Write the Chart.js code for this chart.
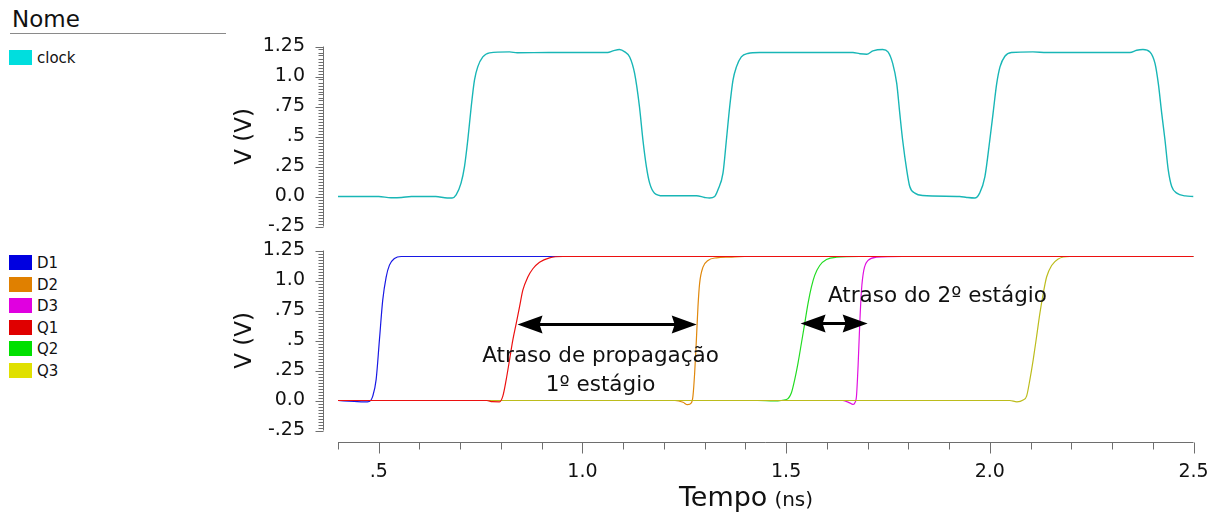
<!DOCTYPE html>
<html>
<head>
<meta charset="utf-8">
<script src="https://cdn.jsdelivr.net/npm/chart.js@4/dist/chart.umd.min.js"></script>
<style>
  html, body { margin: 0; padding: 0; background: #fff; }
  #page { position: relative; width: 1220px; height: 515px; overflow: hidden;
          font-family: "DejaVu Sans", sans-serif; color: #111; }
  #page canvas { position: absolute; left: 0; top: 0; }
  .legend-title { position: absolute; left: 12px; top: 6px; font-size: 23px; line-height: 27px; }
  .legend-rule { position: absolute; left: 10px; top: 33px; width: 216px; height: 1px; background: #8a8a8a; }
  .legend-item { position: absolute; left: 9px; height: 16px; font-size: 15px; line-height: 16px; white-space: nowrap; }
  .legend-item .sw { position: absolute; left: 0; top: 0; width: 23px; height: 15px; }
  .legend-item .lb { position: absolute; left: 28px; top: 0; }
</style>
</head>
<body>
<div id="page">
  <div class="legend-title">Nome</div>
  <div class="legend-rule"></div>
  <div id="legend"></div>
  <canvas id="cTop" width="1220" height="515"></canvas>
  <canvas id="cBottom" width="1220" height="515"></canvas>
</div>
<script>
const FONT = '"DejaVu Sans", sans-serif';

// Axis ranges and tick labels
const X_MIN = 0.4, X_MAX = 2.5;
const Y_MIN = -0.25, Y_MAX = 1.25;
const xTickValues = [0.5, 1.0, 1.5, 2.0, 2.5];
const xTickLabels = ['.5', '1.0', '1.5', '2.0', '2.5'];
const xMinorStep = 0.1;
const yTickValues = [-0.25, 0, 0.25, 0.5, 0.75, 1.0, 1.25];
const yTickLabels = ['-.25', '0.0', '.25', '.5', '.75', '1.0', '1.25'];
const yMinorStep = 0.025;

// Waveforms: time (ns) and voltage (V)
const clockTime = [0.400, 0.500, 0.530, 0.556, 0.580, 0.640, 0.668, 0.680, 0.690, 0.702, 0.7105, 0.7186, 0.727, 0.735, 0.743, 0.7555, 0.772, 0.821, 0.840, 0.919,
  1.062, 1.075, 1.091, 1.104, 1.116, 1.128, 1.140, 1.1485, 1.157, 1.165, 1.177, 1.198, 1.280, 1.300, 1.312, 1.3246, 1.3327, 1.345, 1.3534, 1.3615, 1.3696, 1.378, 1.390, 1.406, 1.435,
  1.620, 1.664, 1.681, 1.698, 1.713, 1.737, 1.750, 1.7616, 1.7715, 1.779, 1.786, 1.796, 1.8035, 1.816, 1.835, 1.926, 1.9435, 1.963, 1.975, 1.988, 2.000, 2.008, 2.017, 2.025, 2.037, 2.053, 2.106, 2.140,
  2.344, 2.3605, 2.376, 2.393, 2.4055, 2.4136, 2.422, 2.430, 2.438, 2.4465, 2.459, 2.480, 2.500];
const clockVolt = [0.000, 0.000, -0.010, -0.008, 0.000, 0.000, -0.012, -0.012, 0.014, 0.111, 0.249, 0.471, 0.748, 0.970, 1.080, 1.163, 1.197, 1.205, 1.198, 1.200,
  1.200, 1.213, 1.225, 1.205, 1.163, 1.028, 0.748, 0.471, 0.249, 0.111, 0.028, 0.006, 0.006, -0.008, -0.013, 0.000, 0.056, 0.194, 0.471, 0.748, 0.970, 1.080, 1.163, 1.192, 1.200,
  1.200, 1.200, 1.190, 1.186, 1.213, 1.225, 1.205, 1.109, 0.942, 0.693, 0.471, 0.222, 0.083, 0.028, 0.008, 0.000, -0.008, -0.013, 0.028, 0.166, 0.471, 0.693, 0.942, 1.080, 1.169, 1.200, 1.205, 1.200,
  1.200, 1.219, 1.225, 1.205, 1.109, 0.942, 0.693, 0.471, 0.222, 0.083, 0.028, 0.005, 0.000];

const d1Time = [0.400, 0.440, 0.465, 0.477, 0.4853, 0.4936, 0.5017, 0.5098, 0.5182, 0.5263, 0.5386, 0.555, 2.500];
const d1Volt = [0.000, -0.008, -0.012, -0.008, 0.036, 0.174, 0.505, 0.836, 1.029, 1.128, 1.183, 1.200, 1.200];

const d2Time = [0.400, 1.227, 1.247, 1.258, 1.2674, 1.2713, 1.2755, 1.2797, 1.2836, 1.2876, 1.2959, 1.3082, 1.3288, 1.3615, 1.398, 2.500];
const d2Volt = [0.000, 0.000, -0.015, -0.035, -0.020, 0.036, 0.229, 0.505, 0.780, 0.974, 1.111, 1.167, 1.189, 1.195, 1.200, 1.200];

const d3Time = [0.400, 1.639, 1.656, 1.6636, 1.6685, 1.6727, 1.6766, 1.6808, 1.685, 1.6906, 1.7012, 1.7218, 1.787, 2.500];
const d3Volt = [0.000, 0.000, -0.020, -0.033, -0.020, 0.036, 0.284, 0.643, 0.919, 1.084, 1.167, 1.194, 1.200, 1.200];

const q1Time = [0.400, 0.765, 0.779, 0.7965, 0.8046, 0.8129, 0.8211, 0.8292, 0.8375, 0.8456, 0.8537, 0.866, 0.8783, 0.8947, 0.9193, 0.952, 2.500];
const q1Volt = [0.000, 0.000, -0.010, -0.011, 0.036, 0.174, 0.339, 0.505, 0.643, 0.780, 0.919, 1.029, 1.098, 1.153, 1.189, 1.200, 1.200];

const q2Time = [0.400, 1.430, 1.470, 1.5008, 1.513, 1.5211, 1.5292, 1.5375, 1.5457, 1.5538, 1.5621, 1.5702, 1.5825, 1.599, 1.6236, 1.681, 2.500];
const q2Volt = [0.000, 0.000, -0.004, 0.008, 0.064, 0.174, 0.312, 0.477, 0.643, 0.809, 0.946, 1.043, 1.125, 1.175, 1.194, 1.200, 1.200];

const q3Time = [0.400, 2.049, 2.0665, 2.0819, 2.0903, 2.0984, 2.1065, 2.1148, 2.1229, 2.1311, 2.1394, 2.1517, 2.1679, 2.1966, 2.500];
const q3Volt = [0.000, 0.000, -0.011, 0.005, 0.036, 0.174, 0.339, 0.532, 0.726, 0.891, 1.029, 1.125, 1.180, 1.200, 1.200];

// Measured delays (ns) and the level (V) where they are marked
const delayStart = [0.8407, 1.5355];
const delayEnd   = [1.2805, 1.7001];
const delayLevel = [0.640, 0.645];

// Series names and colours
const topNames = ['clock'];
const bottomNames = ['D1', 'D2', 'D3', 'Q1', 'Q2', 'Q3'];
const swatchColors = { clock: '#00dede', D1: '#0000e0', D2: '#e08000', D3: '#e000e0', Q1: '#e00000', Q2: '#00e000', Q3: '#e0e000' };
const lineColors   = { clock: '#18b6b6', D1: '#1818e4', D2: '#e0880c', D3: '#e010e0', Q1: '#ec1010', Q2: '#22dc22', Q3: '#bcbc1c' };
// stacking: lower value is painted on top
const drawOrder = { D1: 5, D2: 4, D3: 3, Q1: 0, Q2: 2, Q3: 1 };

const noteLabels = [
  { text: 'Atraso de propagação', t: 1.0446, v: 0.323, align: 'center' },
  { text: '1º estágio',           t: 1.0446, v: 0.077, align: 'center' },
  { text: 'Atraso do 2º estágio', t: 1.6026, v: 0.819, align: 'left' }
];

// ---------- helpers ----------
function stepValues(min, max, step) {
  const n = Math.round((max - min) / step), out = [];
  for (let i = 0; i <= n; i++) out.push(+(min + i * step).toFixed(4));
  return out;
}
function labelFor(values, labels, v) {
  const i = values.findIndex(t => Math.abs(t - v) < 1e-6);
  return i < 0 ? '' : labels[i];
}
function pts(ts, vs) { return ts.map((t, i) => ({ x: t, y: vs[i] })); }

// ---------- legend ----------
(function buildLegend() {
  const box = document.getElementById('legend');
  const add = (name, top) => {
    const d = document.createElement('div');
    d.className = 'legend-item';
    d.style.top = top + 'px';
    d.innerHTML = '<span class="sw" style="background:' + swatchColors[name] + '"></span><span class="lb">' + name + '</span>';
    box.appendChild(d);
  };
  topNames.forEach((n, i) => add(n, 50 + i * 21.6));
  bottomNames.forEach((n, i) => add(n, 255 + i * 21.6));
})();

// ---------- plugins ----------
const axisMarks = {
  id: 'axisMarks',
  afterDraw(chart, args, o) {
    const { ctx, chartArea: a, scales: { x, y } } = chart;
    ctx.save();
    ctx.strokeStyle = '#6e6e6e';
    ctx.lineWidth = 1;
    const seg = (x1, y1, x2, y2) => { ctx.beginPath(); ctx.moveTo(x1, y1); ctx.lineTo(x2, y2); ctx.stroke(); };
    const ax = Math.round(a.left - o.yGap) + 0.5;
    seg(ax, y.getPixelForValue(Y_MAX), ax, y.getPixelForValue(Y_MIN));
    y.ticks.forEach(t => {
      const p = Math.round(y.getPixelForValue(t.value)) + 0.5;
      const major = labelFor(yTickValues, yTickLabels, t.value) !== '';
      seg(ax - (major ? 8 : 5), p, ax, p);
    });
    if (o.showX) {
      const ay = Math.round(a.bottom + o.xGap) + 0.5;
      seg(x.getPixelForValue(X_MIN), ay, x.getPixelForValue(X_MAX), ay);
      x.ticks.forEach(t => {
        const p = Math.round(x.getPixelForValue(t.value)) + 0.5;
        const major = labelFor(xTickValues, xTickLabels, t.value) !== '';
        seg(p, ay, p, ay + (major ? 11 : 7));
      });
    }
    ctx.restore();
  }
};

const timeTitle = {
  id: 'timeTitle',
  afterDraw(chart, args, o) {
    if (!o.show) return;
    const ctx = chart.ctx;
    ctx.save();
    ctx.fillStyle = '#111';
    ctx.textBaseline = 'alphabetic';
    ctx.textAlign = 'left';
    ctx.font = '27px ' + FONT;
    const w1 = ctx.measureText('Tempo').width;
    ctx.font = '20px ' + FONT;
    const w2 = ctx.measureText('(ns)').width;
    const gap = 7;
    const x0 = o.centerX - (w1 + gap + w2) / 2;
    ctx.font = '27px ' + FONT;
    ctx.fillText('Tempo', x0, o.baseline);
    ctx.font = '20px ' + FONT;
    ctx.fillText('(ns)', x0 + w1 + gap, o.baseline);
    ctx.restore();
  }
};

function doubleArrow(ctx, x0, x1, y, L, H, shaft) {
  ctx.lineWidth = shaft;
  ctx.beginPath(); ctx.moveTo(x0 + L * 0.8, y); ctx.lineTo(x1 - L * 0.8, y); ctx.stroke();
  ctx.beginPath();
  ctx.moveTo(x0, y); ctx.lineTo(x0 + L, y - H); ctx.lineTo(x0 + L * 0.88, y); ctx.lineTo(x0 + L, y + H); ctx.closePath();
  ctx.fill();
  ctx.beginPath();
  ctx.moveTo(x1, y); ctx.lineTo(x1 - L, y - H); ctx.lineTo(x1 - L * 0.88, y); ctx.lineTo(x1 - L, y + H); ctx.closePath();
  ctx.fill();
}

const delayNotes = {
  id: 'delayNotes',
  afterDatasetsDraw(chart, args, o) {
    if (!o.show) return;
    const { ctx, scales: { x, y } } = chart;
    ctx.save();
    ctx.fillStyle = '#000';
    ctx.strokeStyle = '#000';
    delayStart.forEach((t0, i) => {
      doubleArrow(ctx, x.getPixelForValue(t0), x.getPixelForValue(delayEnd[i]),
                  Math.round(y.getPixelForValue(delayLevel[i])) + 0.5, 25, 9, 3);
    });
    ctx.fillStyle = '#111';
    ctx.font = '21.5px ' + FONT;
    ctx.textBaseline = 'alphabetic';
    noteLabels.forEach(l => {
      ctx.textAlign = l.align;
      ctx.fillText(l.text, x.getPixelForValue(l.t), y.getPixelForValue(l.v));
    });
    ctx.restore();
  }
};

// ---------- scales ----------
function yScale() {
  return {
    type: 'linear', min: Y_MIN, max: Y_MAX,
    afterBuildTicks: s => { s.ticks = stepValues(Y_MIN, Y_MAX, yMinorStep).map(v => ({ value: v })); },
    afterFit: s => { s.width = 118; },
    grid: { display: true, drawOnChartArea: false, drawTicks: true, tickLength: 33, tickColor: 'rgba(0,0,0,0)' },
    border: { display: false },
    ticks: { autoSkip: false, padding: 0, color: '#111', font: { family: FONT, size: 19 },
             callback: v => labelFor(yTickValues, yTickLabels, v) },
    title: { display: true, text: 'V (V)', color: '#111', font: { family: FONT, size: 23, lineHeight: 1 },
             padding: { top: 14, bottom: 0 } }
  };
}

function lineSet(name, ts, vs, width) {
  return {
    label: name, data: pts(ts, vs),
    borderColor: lineColors[name], backgroundColor: lineColors[name],
    borderWidth: width, pointRadius: 0, fill: false,
    cubicInterpolationMode: 'monotone', order: drawOrder[name] ?? 0
  };
}

const common = {
  responsive: false, animation: false, events: [],
  plugins: { legend: { display: false }, tooltip: { enabled: false } }
};

// Upper panel: clock
new Chart(document.getElementById('cTop'), {
  type: 'line',
  data: { datasets: [lineSet('clock', clockTime, clockVolt, 1.4)] },
  options: Object.assign({}, common, {
    layout: { padding: { left: 220, right: 26.5, top: 46.5, bottom: 288.5 } },
    scales: {
      x: { type: 'linear', min: X_MIN, max: X_MAX, display: false },
      y: yScale()
    },
    plugins: Object.assign({}, common.plugins, {
      axisMarks: { yGap: 15, showX: false },
      timeTitle: { show: false },
      delayNotes: { show: false }
    })
  }),
  plugins: [axisMarks, timeTitle, delayNotes]
});

// Lower panel: data inputs and outputs of the stages
const seriesData = {
  D1: [d1Time, d1Volt], D2: [d2Time, d2Volt], D3: [d3Time, d3Volt],
  Q1: [q1Time, q1Volt], Q2: [q2Time, q2Volt], Q3: [q3Time, q3Volt]
};
new Chart(document.getElementById('cBottom'), {
  type: 'line',
  data: { datasets: bottomNames.map(n => lineSet(n, seriesData[n][0], seriesData[n][1], 1.2)) },
  options: Object.assign({}, common, {
    layout: { padding: { left: 220, right: 26.5, top: 250.5, bottom: 24.5 } },
    scales: {
      x: {
        type: 'linear', min: X_MIN, max: X_MAX,
        afterBuildTicks: s => { s.ticks = stepValues(X_MIN, X_MAX, xMinorStep).map(v => ({ value: v })); },
        afterFit: s => { s.height = 60; },
        grid: { display: true, drawOnChartArea: false, drawTicks: true, tickLength: 30, tickColor: 'rgba(0,0,0,0)' },
        border: { display: false },
        ticks: { autoSkip: false, maxRotation: 0, minRotation: 0, padding: 0, color: '#111',
                 font: { family: FONT, size: 19 },
                 callback: v => labelFor(xTickValues, xTickLabels, v) }
      },
      y: yScale()
    },
    plugins: Object.assign({}, common.plugins, {
      axisMarks: { yGap: 15, showX: true, xGap: 11.7 },
      timeTitle: { show: true, centerX: 746, baseline: 506 },
      delayNotes: { show: true }
    })
  }),
  plugins: [axisMarks, timeTitle, delayNotes]
});
</script>
</body>
</html>
